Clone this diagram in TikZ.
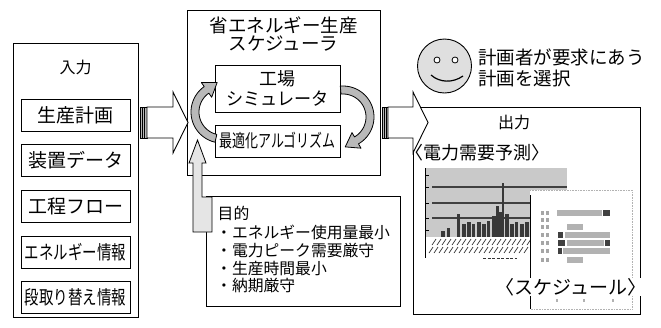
\documentclass[tikz,border=0pt]{standalone}
\usepackage{fontspec}
\usepackage{graphicx}
\newfontfamily\jp{Noto Sans CJK JP}
\newcommand{\narrowtext}[2]{\scalebox{#1}[1]{#2}}
\tikzset{
  frame/.style={draw=black, line width=0.9pt, inner sep=0pt},
  item/.style={draw=black, line width=0.9pt, inner sep=0pt,
    minimum width=109pt, minimum height=32pt,
    font=\jp\fontsize{19}{21}\selectfont},
  caption/.style={inner sep=0pt, font=\jp\fontsize{18.5}{20}\selectfont},
  heading/.style={inner sep=0pt, font=\jp\fontsize{16}{18}\selectfont},
  goal/.style={inner sep=0pt, anchor=west, font=\jp\fontsize{15.8}{18}\selectfont},
  blockarrow/.style={draw=black, line width=0.9pt, fill=white, line join=miter},
  cutmark/.style={draw=black, line width=0.6pt, fill=gray!55},
  looparrow/.style={draw=black, line width=0.8pt, fill=gray!55, line join=round},
  uparrow/.style={draw=black, line width=0.8pt, fill=gray!20},
  bar/.style={fill=black!78},
  gantt/.style={fill=gray!60},
}
\begin{document}
\begin{tikzpicture}[x=1pt,y=-1pt]
\useasboundingbox (0,0) rectangle (661,327);

% ---------- input column ----------
\node[frame, minimum width=125pt, minimum height=274pt] (input) at (75.5,180) {};
\node[heading] (inputtitle) at (75.5,67) {入力};
\node[item] (plan)   at (75.5,115) {生産計画};
\node[item] (equip)  at (75.5,160.5) {装置データ};
\node[item] (flow)   at (75.5,206) {工程フロー};
\node[item] (energy) at (75.5,252) {\narrowtext{0.76}{エネルギー情報}};
\node[item] (setup)  at (75.5,297.5) {\narrowtext{0.76}{段取り替え情報}};

% ---------- scheduler ----------
\node[frame, minimum width=193pt, minimum height=165pt] (sched) at (283.5,92.5) {};
\node[caption] (schedtitle1) at (283.5,25) {省エネルギー生産};
\node[caption] (schedtitle2) at (283.5,44) {スケジューラ};
\node[frame, minimum width=125pt, minimum height=47pt, align=center,
      font=\jp\fontsize{18}{20}\selectfont] (sim) at (277.5,88.5)
      {工場\\\narrowtext{0.95}{シミュレータ}};
\node[frame, minimum width=125pt, minimum height=32pt,
      font=\jp\fontsize{18}{20}\selectfont] (opt) at (277.5,141)
      {\narrowtext{0.72}{最適化アルゴリズム}};

% loop between optimiser and simulator (left: upwards)
\draw[looparrow]
  plot[domain=103:235, samples=40] ({222+31*cos(\x)},{112+31*sin(\x)})
  -- ({222+36*cos(235)},{112+36*sin(235)})
  -- ({222+27*cos(235)-13*sin(235)},{112+27*sin(235)+13*cos(235)})
  -- ({222+18*cos(235)},{112+18*sin(235)})
  -- plot[domain=235:103, samples=40] ({222+23*cos(\x)},{112+23*sin(\x)})
  -- cycle;
% loop between simulator and optimiser (right: downwards)
\draw[looparrow]
  plot[domain=-95:60, samples=40] ({343+31*cos(\x)},{117+31*sin(\x)})
  -- ({343+36*cos(60)},{117+36*sin(60)})
  -- ({343+27*cos(60)-13*sin(60)},{117+27*sin(60)+13*cos(60)})
  -- ({343+18*cos(60)},{117+18*sin(60)})
  -- plot[domain=60:-95, samples=40] ({343+23*cos(\x)},{117+23*sin(\x)})
  -- cycle;

% ---------- objectives ----------
\node[frame, minimum width=194pt, minimum height=110pt] (goals) at (303,251) {};
\node[goal] (goalhead) at (217.5,213) {目的};
\node[goal] (goal1) at (216,232) {・エネルギー使用量最小};
\node[goal] (goal2) at (216,250) {・電力ピーク需要厳守};
\node[goal] (goal3) at (216,268) {・生産時間最小};
\node[goal] (goal4) at (216,285.5) {・納期厳守};

% objectives feed the scheduler
\draw[uparrow] (193,232) -- (193,163) -- (189,163) -- (197.5,140) -- (206,163)
  -- (202,163) -- (202,197) -- (212,197) -- (212,232) -- cycle;

% ---------- input -> scheduler ----------
\draw[cutmark] (140,107) rectangle (147,138);
\draw[black, line width=0.6pt] (142.3,107) -- (142.3,138) (144.6,107) -- (144.6,138);
\draw[blockarrow] (147,107) -- (173,107) -- (173,92) -- (188,122.5) -- (173,153)
  -- (173,138) -- (147,138) -- cycle;

% ---------- output ----------
\node[frame, minimum width=227pt, minimum height=207pt] (output) at (526.5,210.5) {};
\node[heading] (outputtitle) at (514,122) {出力};
\node[caption, font=\jp\fontsize{18}{20}\selectfont] (demandtitle) at (477.5,153) {〈電力需要予測〉};

% demand forecast chart
\fill[gray!42] (425,168) rectangle (567,237);
\foreach \gy in {187,203,218} \draw[black!75, line width=1.1pt] (432,\gy) -- (567,\gy);
\draw[black, line width=0.8pt] (425,168) -- (425,258);
\foreach \ty in {175,187,203,218,230} \draw[black, line width=0.6pt] (425,\ty) -- (429,\ty);
\foreach \bx/\bt/\bw in {441/231/4, 447/228/3, 457/214/3, 462/224/4, 467/222/4,
    472/224/3, 477/222/4, 482/224/4, 487/221/3, 492/216/4, 496/206/3, 499/212/3,
    502/183/2, 505/214/4, 510/224/4, 515/222/3, 520/224/4, 525/222/4}
  \fill[bar] (\bx,\bt) rectangle ({\bx+\bw},237);
\foreach \hx in {432,437,...,527} {
  \draw[black!80, line width=0.7pt] (\hx,245) -- ({\hx+4},239);
  \draw[black!80, line width=0.7pt] ({\hx-3},253) -- ({\hx+1},247);
}
\draw[black!80, line width=1.6pt, dash pattern=on 3pt off 1.5pt] (483,258.5) -- (517,258.5);

% schedule sheet
\fill[white] (530,190) rectangle (632,309);
\draw[gray!60, line width=0.6pt, densely dotted] (530,190) -- (632,190) -- (632,309) -- (530,309);
\draw[black, line width=1pt] (530,195) -- (530,309);
\foreach \ry in {213,220,227,235,243,251,260} {
  \fill[gray!70] (541,{\ry-2}) rectangle (544,{\ry+2});
  \fill[gray!70] (546,{\ry-2}) rectangle (549,{\ry+2});
}
\fill[gantt] (557,210) rectangle (602,216);
\fill[black!75] (603,210) rectangle (610,216);
\fill[gantt] (567,224) rectangle (583,230);
\fill[black!75] (558,232) rectangle (563,238);
\fill[gantt] (565,232) rectangle (610,238);
\fill[black!75] (558,240) rectangle (565,246);
\fill[gantt] (567,240) rectangle (604,246);
\fill[black!75] (605,240) rectangle (610,246);
\fill[black!75] (558,248) rectangle (562,254);
\fill[gantt] (563,248) rectangle (610,254);
\fill[gantt] (567,257) rectangle (583,263);
\node[caption, fill=white, font=\jp\fontsize{19}{21}\selectfont] (scheduletitle) at (571,287) {〈スケジュール〉};
\foreach \dx in {556,583,612} \fill[gray!60] (\dx,299) rectangle ({\dx+2},302);

% ---------- scheduler -> output ----------
\draw[cutmark] (382,107) rectangle (388,138);
\draw[black, line width=0.6pt] (384,107) -- (384,138) (386,107) -- (386,138);
\draw[blockarrow] (388,107) -- (413,107) -- (413,92) -- (428,122.5) -- (413,153)
  -- (413,138) -- (388,138) -- cycle;

% ---------- planner ----------
\node[circle, draw=black, line width=0.9pt, fill=gray!25, minimum size=54pt, inner sep=0pt] (face) at (444.5,66) {};
\draw[black, line width=0.8pt, fill=white] (437,60) circle[radius=3pt];
\draw[black, line width=0.8pt, fill=white] (455,60) circle[radius=3pt];
\draw[black, line width=1.2pt] (431,75) .. controls (440,83) and (453,83) .. (463,76);
\node[caption, anchor=west] (choice1) at (478,57) {計画者が要求にあう};
\node[caption, anchor=west] (choice2) at (478,78) {計画を選択};

\end{tikzpicture}
\end{document}
